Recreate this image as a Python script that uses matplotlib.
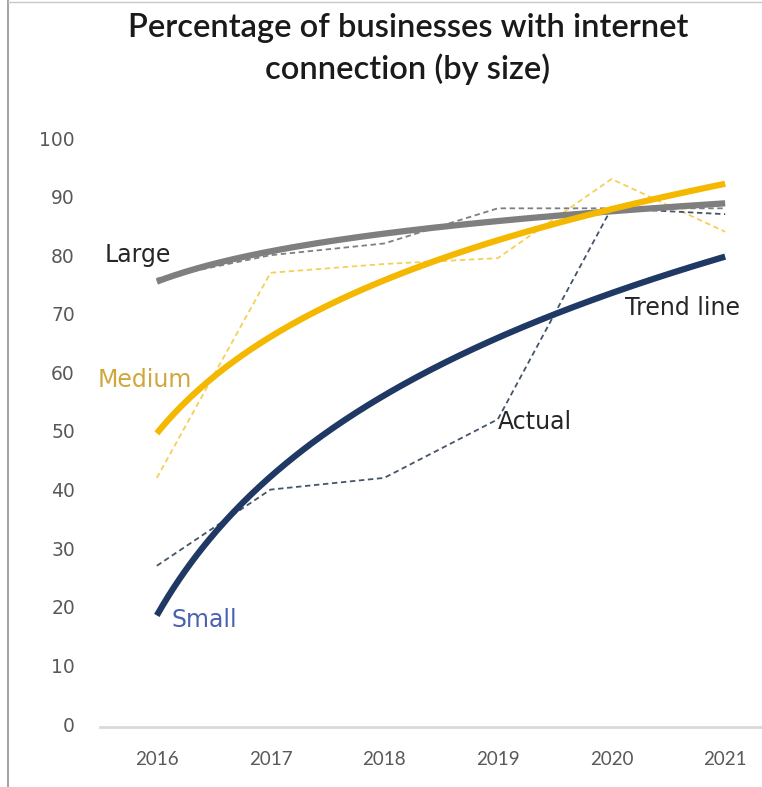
import numpy as np
import matplotlib.pyplot as plt

plt.rcParams['font.family'] = ['Lato', 'DejaVu Sans']

years = ['2016', '2017', '2018', '2019', '2020', '2021']
small_actual = [27, 40, 42, 52, 88, 87]
medium_actual = [42, 77, 78.5, 79.5, 93, 84]
large_actual = [76, 80, 82, 88, 88, 88]

navy = '#1f3864'
gold = '#f5b800'
grey = '#7f7f7f'

x = np.arange(1, len(years) + 1)
xs = np.linspace(1, len(years), 200)

fig = plt.figure(figsize=(7.62, 7.87), dpi=100)
ax = fig.add_axes([100 / 762, 1 - 724 / 787, 682 / 762, 586 / 787])


def trend(vals):
    # excel style logarithmic trend line
    b, a = np.polyfit(np.log(x), vals, 1)
    return a + b * np.log(xs)


ax.plot(x, large_actual, color=grey, lw=1.3, ls=(0, (3, 2)))
ax.plot(x, medium_actual, color='#f7cf55', lw=1.3, ls=(0, (3, 2)))
ax.plot(x, small_actual, color='#44546a', lw=1.3, ls=(0, (3, 2)))

ax.plot(xs, trend(large_actual), color=grey, lw=4.5, solid_capstyle='butt')
ax.plot(xs, trend(medium_actual), color=gold, lw=4.5, solid_capstyle='butt')
ax.plot(xs, trend(small_actual), color=navy, lw=4.5, solid_capstyle='butt')

ax.set_xlim(0.5, len(years) + 0.5)
ax.set_ylim(0, 100)
ax.set_xticks(x)
ax.set_xticklabels(years, family='DejaVu Sans')
ax.set_yticks(range(0, 101, 10))
ax.set_yticklabels([str(v) for v in range(0, 101, 10)], family='DejaVu Sans')
ax.tick_params(length=0, labelsize=13.5, colors='#595959')
ax.tick_params(axis='x', pad=17)
ax.tick_params(axis='y', pad=18)
for s in ['top', 'right', 'left']:
    ax.spines[s].set_visible(False)
ax.spines['bottom'].set_color('#d9d9d9')
ax.spines['bottom'].set_linewidth(2)
ax.spines['bottom'].set_position(('data', -0.5))

lab_kw = dict(fontsize=17, va='center', ha='left', family='DejaVu Sans')
ax.text(0.54, 80, 'Large', color='#262626', **lab_kw)
ax.text(0.48, 58.7, 'Medium', color='#cfa73c', **lab_kw)
ax.text(1.13, 17.7, 'Small', color='#4a62b0', **lab_kw)
ax.text(5.12, 71, 'Trend line', color='#262626', **lab_kw)
ax.text(4.0, 51.5, 'Actual', color='#262626', **lab_kw)

fig.text(408 / 762, 1 - 49 / 787, 'Percentage of businesses with internet\nconnection (by size)',
         ha='center', va='center', fontsize=23.5, fontweight='semibold', color='#1a1a1a',
         linespacing=1.4)

# outer frame lines
fig.add_artist(plt.Line2D([8 / 762, 8 / 762], [0, 1], color='#a6a6a6', lw=1.5))
fig.add_artist(plt.Line2D([8 / 762, 1], [0.998, 0.998], color='#c8c8c8', lw=1))

fig.savefig('out.png', dpi=100)
